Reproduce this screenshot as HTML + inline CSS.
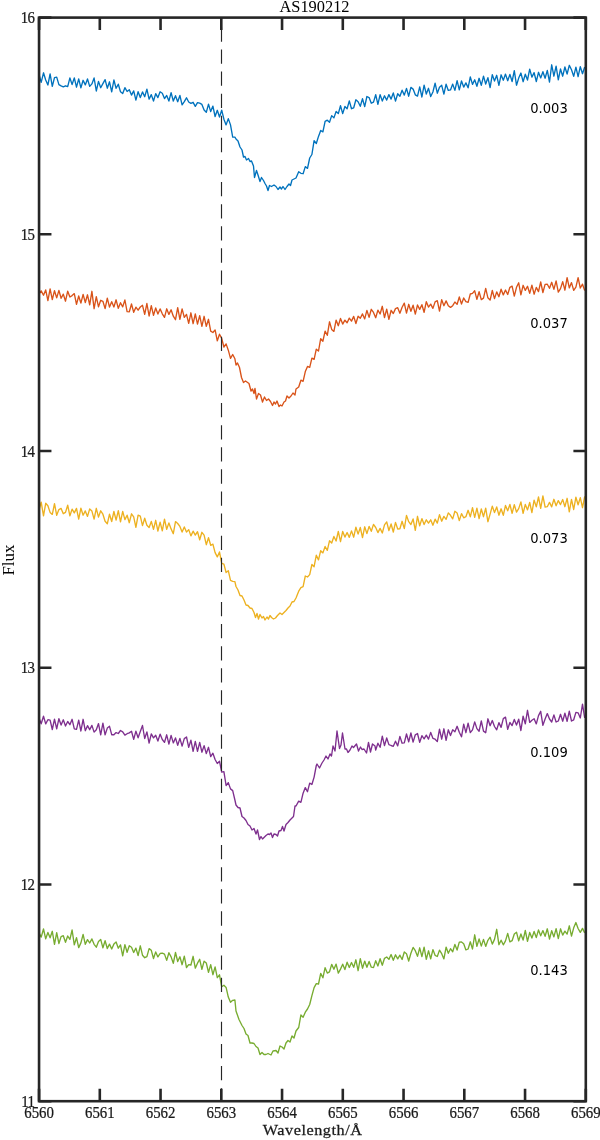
<!DOCTYPE html>
<html><head><meta charset="utf-8"><style>
html,body{margin:0;padding:0;background:#fff;width:600px;height:1140px;overflow:hidden}
svg{display:block}
.tk{font-family:"Liberation Serif",serif;font-size:16.5px;fill:#1a1a1a;stroke:#1a1a1a;stroke-width:0.25px}
.ytk{letter-spacing:-0.8px}
.lab{font-family:"DejaVu Sans Condensed","DejaVu Sans",sans-serif;font-size:14.3px;fill:#000}
.ttl{font-family:"Liberation Serif",serif;font-size:17px;fill:#000}
.xl{font-family:"Liberation Serif",serif;font-size:15.2px;fill:#1a1a1a;letter-spacing:0.5px;stroke:#1a1a1a;stroke-width:0.25px}
</style></head><body>
<svg width="600" height="1140" viewBox="0 0 600 1140">
<rect width="600" height="1140" fill="#fff"/>
<g fill="none" stroke-width="1.35" stroke-linejoin="round">
<path d="M39.0,74.3 41.2,82.4 43.5,72.8 45.7,80.0 47.9,85.0 50.1,73.9 52.3,86.3 54.5,77.6 56.7,77.1 58.9,84.6 61.1,85.9 63.3,86.8 65.5,85.8 67.7,86.6 69.9,77.9 72.1,84.5 74.3,77.9 76.5,87.2 78.7,78.9 80.9,87.9 83.1,80.3 85.3,84.9 87.5,79.0 89.7,86.4 91.9,83.9 94.1,78.0 96.3,91.0 98.5,81.4 100.7,87.7 102.9,83.6 105.1,79.6 107.3,88.2 109.5,81.8 111.7,91.8 113.9,80.0 116.1,88.3 118.3,84.2 120.5,91.7 122.7,93.5 124.9,87.7 127.1,91.5 129.3,89.7 131.5,95.1 133.7,90.9 135.9,100.1 138.1,91.7 140.3,97.6 142.5,91.9 144.7,96.7 146.9,89.1 149.1,99.1 151.3,94.6 153.5,101.0 155.7,93.6 157.9,97.6 160.1,91.8 162.3,93.2 164.5,98.6 166.7,95.5 168.9,101.0 171.1,92.6 173.3,101.0 175.5,95.7 177.7,101.7 179.9,95.5 182.1,104.8 184.3,101.6 186.5,97.8 188.7,102.0 190.9,103.4 193.1,102.3 195.3,106.3 197.5,102.6 199.7,103.2 201.9,104.4 204.1,110.0 206.3,112.3 208.5,104.1 210.7,111.6 212.9,106.1 215.1,116.5 217.3,110.3 219.5,117.0 221.7,110.2 223.9,119.2 226.1,124.9 228.3,118.6 230.5,124.9 232.7,137.1 234.9,137.2 236.0,139.0 238.0,141.0 240.0,147.0 242.0,150.0 243.5,157.0 245.0,156.5 246.5,160.0 248.5,158.5 250.0,161.5 251.5,161.0 253.5,166.0 254.5,177.5 256.5,170.5 258.0,175.0 260.0,181.5 261.5,177.5 263.5,180.5 265.0,183.5 266.5,186.0 268.0,190.5 269.5,185.5 271.5,186.5 274.0,185.0 276.0,186.5 278.0,189.5 280.0,187.0 281.5,189.0 283.0,186.5 285.0,189.5 287.0,186.5 289.0,184.0 290.5,185.5 292.0,180.0 294.0,179.0 296.0,178.0 298.7,171.7 300.9,173.3 303.1,173.7 305.3,166.6 307.5,168.4 309.7,158.0 311.9,154.5 314.1,140.7 316.3,143.5 318.5,136.4 320.7,130.5 322.9,131.9 325.1,121.4 327.3,120.2 329.5,122.2 331.7,115.6 333.9,117.9 336.1,111.5 338.3,113.6 340.5,105.7 342.7,113.6 344.9,106.5 347.1,108.8 349.3,100.9 351.5,108.7 353.7,107.8 355.9,99.8 358.1,101.7 360.3,106.3 362.5,98.7 364.7,106.6 366.9,96.5 369.1,97.6 371.3,103.2 373.5,102.1 375.7,94.7 377.9,104.4 380.1,94.6 382.3,101.0 384.5,95.8 386.7,100.1 388.9,94.6 391.1,99.1 393.3,92.9 395.5,101.1 397.7,93.7 399.9,96.2 402.1,90.2 404.3,95.1 406.5,88.4 408.7,96.2 410.9,87.4 413.1,89.1 415.3,94.8 417.5,96.1 419.7,86.9 421.9,97.0 424.1,85.1 426.3,94.0 428.5,88.3 430.7,96.5 432.9,92.0 435.1,83.2 437.3,93.2 439.5,87.2 441.7,85.3 443.9,94.1 446.1,84.2 448.3,90.4 450.5,89.9 452.7,84.1 454.9,90.4 457.1,80.6 459.3,89.8 461.5,81.0 463.7,87.1 465.9,82.9 468.1,87.8 470.3,76.9 472.5,84.4 474.7,79.8 476.9,86.3 479.1,78.3 481.3,85.3 483.5,76.1 485.7,84.0 487.9,77.7 490.1,87.6 492.3,74.6 494.5,81.0 496.7,75.3 498.9,85.3 501.1,74.8 503.3,80.2 505.5,74.1 507.7,80.7 509.9,74.4 512.1,81.5 514.3,70.6 516.5,85.2 518.7,78.1 520.9,73.0 523.1,81.7 525.3,74.2 527.5,80.0 529.7,69.1 531.9,77.1 534.1,72.6 536.3,81.5 538.5,72.3 540.7,77.9 542.9,71.7 545.1,78.2 547.3,70.4 549.5,82.0 551.7,64.8 553.9,76.2 556.1,66.1 558.3,79.9 560.5,69.0 562.7,76.2 564.9,67.0 567.1,74.0 569.3,65.3 571.5,69.8 573.7,76.3 575.9,67.2 578.1,76.7 580.3,66.6 582.5,73.7 584.7,67.0" stroke="#0072BD"/>
<path d="M39.0,294.2 41.2,290.9 43.5,295.2 45.7,289.9 47.9,300.6 50.1,288.9 52.3,299.6 54.5,290.7 56.7,297.9 58.9,290.4 61.1,298.3 63.3,294.1 65.5,301.2 67.7,291.2 69.9,297.0 72.1,295.6 74.3,293.6 76.5,304.3 78.7,296.0 80.9,303.1 83.1,294.4 85.3,302.5 87.5,294.8 89.7,304.9 91.9,291.3 94.1,308.7 96.3,296.7 98.5,306.8 100.7,300.3 102.9,301.3 105.1,308.6 107.3,298.2 109.5,307.1 111.7,301.7 113.9,307.0 116.1,299.8 118.3,308.3 120.5,302.7 122.7,306.9 124.9,300.0 127.1,311.7 129.3,311.8 131.5,304.0 133.7,312.3 135.9,307.2 138.1,310.2 140.3,307.0 142.5,305.3 144.7,314.3 146.9,303.5 149.1,316.0 151.3,305.7 153.5,315.3 155.7,308.0 157.9,314.1 160.1,308.9 162.3,313.8 164.5,317.4 166.7,308.8 168.9,314.4 171.1,309.8 173.3,316.2 175.5,319.7 177.7,307.6 179.9,319.4 182.1,308.9 184.3,317.3 186.5,314.4 188.7,323.4 190.9,312.8 193.1,323.7 195.3,314.0 197.5,324.1 199.7,315.6 201.9,326.3 204.1,316.3 206.3,326.4 208.5,319.3 210.7,331.2 212.9,332.5 215.1,329.9 217.3,340.9 219.5,334.2 221.7,338.4 223.9,347.0 226.1,343.9 228.3,350.2 230.5,358.4 232.7,354.5 234.9,358.8 236.0,365.0 237.5,363.0 239.5,367.5 241.5,377.5 243.5,382.5 245.5,381.0 249.0,383.5 251.0,391.0 252.5,389.0 254.0,393.5 255.0,388.5 256.5,399.0 258.5,393.5 260.5,395.0 262.5,402.0 264.5,397.0 266.5,400.5 268.5,399.0 270.5,401.5 272.5,405.5 274.0,402.0 275.5,404.0 277.0,401.0 279.0,406.5 280.5,405.0 282.0,406.0 284.0,402.0 285.5,401.0 287.0,396.0 289.0,398.0 291.0,396.0 293.0,393.0 295.0,395.0 296.0,389.0 298.7,387.0 300.9,380.2 303.1,381.3 305.3,371.6 307.5,366.4 309.7,367.4 311.9,358.1 314.1,359.4 316.3,349.2 318.5,351.0 320.7,338.7 322.9,341.2 325.1,331.1 327.3,335.3 329.5,321.8 331.7,329.4 333.9,331.4 336.1,320.1 338.3,325.7 340.5,318.5 342.7,324.1 344.9,320.2 347.1,322.8 349.3,318.1 351.5,321.1 353.7,316.4 355.9,323.5 358.1,316.2 360.3,318.3 362.5,313.9 364.7,318.9 366.9,310.4 369.1,317.4 371.3,309.3 373.5,312.4 375.7,317.7 377.9,310.1 380.1,314.0 382.3,306.3 384.5,317.5 386.7,309.1 388.9,319.3 391.1,310.3 393.3,313.5 395.5,308.6 397.7,307.7 399.9,313.2 402.1,307.2 404.3,303.1 406.5,313.1 408.7,304.3 410.9,311.3 413.1,305.2 415.3,314.1 417.5,305.0 419.7,309.4 421.9,304.7 424.1,312.3 426.3,301.7 428.5,307.1 430.7,304.1 432.9,308.4 435.1,301.9 437.3,300.7 439.5,311.1 441.7,299.7 443.9,305.7 446.1,300.9 448.3,305.8 450.5,307.4 452.7,305.7 454.9,302.0 457.1,304.4 459.3,297.0 461.5,304.0 463.7,298.0 465.9,301.7 468.1,302.3 470.3,294.0 472.5,293.4 474.7,290.8 476.9,299.3 479.1,291.7 481.3,299.6 483.5,298.1 485.7,288.4 487.9,297.8 490.1,300.1 492.3,290.5 494.5,298.6 496.7,291.9 498.9,296.7 501.1,289.2 503.3,294.9 505.5,290.0 507.7,294.5 509.9,287.3 512.1,286.1 514.3,296.1 516.5,287.3 518.7,282.8 520.9,294.8 523.1,285.3 525.3,290.4 527.5,286.3 529.7,293.3 531.9,285.1 534.1,294.2 536.3,287.4 538.5,291.6 540.7,282.0 542.9,292.5 545.1,284.4 547.3,284.2 549.5,288.3 551.7,282.3 553.9,289.4 556.1,280.9 558.3,292.1 560.5,288.6 562.7,281.7 564.9,290.2 567.1,277.6 569.3,287.9 571.5,282.6 573.7,290.4 575.9,287.2 578.1,277.7 580.3,288.0 582.5,284.2 584.7,290.6" stroke="#D95319"/>
<path d="M39.0,509.8 41.2,502.2 43.5,515.9 45.7,503.3 47.9,505.8 50.1,512.4 52.3,514.4 54.5,503.7 56.7,515.3 58.9,509.6 61.1,508.4 63.3,513.7 65.5,512.4 67.7,505.2 69.9,515.8 72.1,509.1 74.3,512.9 76.5,508.4 78.7,519.1 80.9,508.1 83.1,515.2 85.3,510.9 87.5,516.4 89.7,508.9 91.9,511.1 94.1,519.1 96.3,508.3 98.5,517.1 100.7,510.8 102.9,514.2 105.1,521.3 107.3,523.8 109.5,514.2 111.7,521.5 113.9,511.5 116.1,520.1 118.3,510.6 120.5,521.9 122.7,511.4 124.9,519.6 127.1,515.2 129.3,522.7 131.5,513.8 133.7,516.9 135.9,527.4 138.1,515.1 140.3,516.1 142.5,525.6 144.7,518.2 146.9,525.2 149.1,527.5 151.3,521.4 153.5,529.3 155.7,520.3 157.9,531.0 160.1,522.2 162.3,530.8 164.5,519.1 166.7,529.3 168.9,522.9 171.1,528.9 173.3,533.7 175.5,521.6 177.7,523.5 179.9,526.4 182.1,532.1 184.3,526.9 186.5,532.1 188.7,529.6 190.9,535.9 193.1,531.2 195.3,535.1 197.5,531.7 199.7,539.8 201.9,532.3 204.1,535.1 206.3,544.7 208.5,537.7 210.7,545.3 212.9,544.1 215.1,552.6 217.3,556.9 219.5,551.9 221.7,563.4 223.9,564.2 226.1,572.5 228.3,570.7 230.5,580.4 232.7,581.4 234.9,581.6 236.0,586.5 238.0,590.0 240.0,595.5 242.0,596.0 244.0,600.0 246.0,605.0 248.0,605.5 250.0,608.0 252.0,608.5 254.0,612.5 255.5,617.5 257.0,613.5 258.5,619.0 260.0,614.5 262.0,618.0 263.5,616.5 265.0,620.0 267.0,617.0 268.5,619.0 270.0,615.5 271.5,617.5 273.5,619.0 275.5,618.0 277.5,615.5 280.0,613.0 282.0,614.5 284.0,612.5 286.0,610.5 288.0,608.0 290.0,606.0 292.0,602.0 294.0,601.5 296.0,598.0 298.7,591.2 300.9,587.7 303.1,586.6 305.3,576.0 307.5,577.0 309.7,574.6 311.9,564.5 314.1,566.7 316.3,555.2 318.5,559.9 320.7,550.7 322.9,552.9 325.1,546.5 327.3,550.3 329.5,540.8 331.7,543.0 333.9,536.5 336.1,541.0 338.3,531.4 340.5,541.7 342.7,531.4 344.9,537.1 347.1,532.5 349.3,537.4 351.5,530.9 353.7,537.2 355.9,527.2 358.1,534.1 360.3,527.5 362.5,537.6 364.7,526.8 366.9,533.6 369.1,526.4 371.3,531.3 373.5,524.4 375.7,527.5 377.9,532.6 380.1,528.4 382.3,533.0 384.5,524.8 386.7,521.9 388.9,530.5 391.1,524.0 393.3,532.0 395.5,522.4 397.7,529.0 399.9,528.8 402.1,521.3 404.3,528.6 406.5,515.4 408.7,521.7 410.9,524.5 413.1,518.9 415.3,530.3 417.5,516.3 419.7,525.8 421.9,518.6 424.1,524.5 426.3,519.8 428.5,523.1 430.7,519.8 432.9,525.2 435.1,519.2 437.3,523.1 439.5,514.6 441.7,521.2 443.9,516.4 446.1,519.4 448.3,512.9 450.5,515.3 452.7,518.9 454.9,511.3 457.1,513.0 459.3,520.6 461.5,513.6 463.7,517.8 465.9,516.7 468.1,510.3 470.3,516.8 472.5,507.7 474.7,517.3 476.9,508.2 479.1,518.7 481.3,509.0 483.5,516.7 485.7,508.2 487.9,521.7 490.1,514.1 492.3,506.1 494.5,512.6 496.7,507.0 498.9,515.2 501.1,508.8 503.3,515.3 505.5,505.5 507.7,510.8 509.9,504.5 512.1,513.3 514.3,504.7 516.5,512.1 518.7,508.6 520.9,501.9 523.1,513.4 525.3,504.4 527.5,509.9 529.7,502.5 531.9,512.6 534.1,500.1 536.3,506.9 538.5,497.0 540.7,508.4 542.9,495.9 545.1,507.0 547.3,506.7 549.5,502.4 551.7,506.9 553.9,499.3 556.1,505.8 558.3,500.6 560.5,504.6 562.7,499.5 564.9,506.7 567.1,498.3 569.3,511.8 571.5,499.4 573.7,509.5 575.9,497.2 578.1,504.8 580.3,497.6 582.5,507.7 584.7,496.3" stroke="#EDB120"/>
<path d="M39.0,718.0 41.2,723.8 43.5,716.2 45.7,723.9 47.9,719.7 50.1,720.1 52.3,729.5 54.5,719.1 56.7,728.8 58.9,718.7 61.1,725.0 63.3,719.8 65.5,726.0 67.7,721.5 69.9,724.7 72.1,719.3 74.3,728.8 76.5,729.4 78.7,720.2 80.9,731.0 83.1,719.3 85.3,730.7 87.5,725.7 89.7,729.7 91.9,725.4 94.1,732.1 96.3,729.7 98.5,723.6 100.7,734.9 102.9,723.2 105.1,734.8 107.3,728.1 109.5,726.3 111.7,734.7 113.9,734.7 116.1,732.6 118.3,733.5 120.5,730.5 122.7,731.8 124.9,735.1 127.1,733.7 129.3,732.9 131.5,731.3 133.7,739.4 135.9,731.1 138.1,737.8 140.3,731.5 142.5,725.5 144.7,738.5 146.9,731.9 149.1,743.1 151.3,733.9 153.5,737.9 155.7,735.2 157.9,741.0 160.1,734.1 162.3,739.5 164.5,742.4 166.7,734.8 168.9,744.1 171.1,735.4 173.3,742.9 175.5,737.9 177.7,745.3 179.9,738.4 182.1,746.1 184.3,738.6 186.5,737.0 188.7,747.4 190.9,740.2 193.1,751.3 195.3,741.4 197.5,751.3 199.7,742.4 201.9,752.2 204.1,745.6 206.3,753.6 208.5,747.3 210.7,756.6 212.9,753.2 215.1,759.5 217.3,763.5 219.5,761.2 221.7,772.1 223.9,771.7 226.1,785.5 228.3,782.6 230.5,788.9 232.7,790.6 234.9,800.0 236.0,805.0 238.0,807.5 240.0,808.0 242.0,816.5 244.0,818.0 246.0,820.5 248.0,824.5 250.0,826.0 252.0,830.0 254.0,828.5 256.0,834.0 257.5,830.0 259.5,839.5 261.0,836.5 262.5,839.0 264.5,837.0 266.0,835.5 268.0,834.0 269.5,834.5 271.0,833.0 272.5,837.5 274.0,834.0 276.0,834.5 277.5,836.0 279.0,831.0 281.0,830.5 282.5,826.5 284.0,831.0 286.0,824.5 288.0,822.5 290.0,820.0 291.5,818.5 293.5,816.5 295.0,806.0 296.0,806.0 298.7,801.1 300.9,802.3 303.1,793.2 305.3,787.6 307.5,791.7 309.7,783.1 311.9,784.5 314.1,777.1 316.3,765.5 317.0,764.0 319.5,768.0 322.0,763.0 324.0,760.0 326.0,756.0 328.0,759.0 330.0,754.0 331.5,756.0 333.0,746.0 335.0,751.0 337.0,731.0 339.5,748.5 341.0,745.0 342.5,733.0 345.0,749.0 346.5,749.0 348.0,752.5 350.0,750.0 352.0,746.0 353.5,747.5 356.5,744.0 358.5,751.0 360.5,747.0 362.0,749.5 364.0,749.0 366.5,753.0 368.5,742.5 370.5,752.0 372.5,744.0 375.0,746.0 375.7,750.1 377.9,743.2 380.1,747.3 382.3,736.2 384.5,745.6 386.7,738.0 388.9,744.6 391.1,745.5 393.3,746.3 395.5,741.2 397.7,745.9 399.9,736.4 402.1,743.2 404.3,742.9 406.5,734.0 408.7,741.8 410.9,733.0 413.1,742.1 415.3,734.8 417.5,733.5 419.7,742.4 421.9,735.7 424.1,738.9 426.3,735.1 428.5,739.1 430.7,732.4 432.9,738.3 435.1,739.2 437.3,741.6 439.5,729.1 441.7,739.2 443.9,728.8 446.1,740.4 448.3,729.8 450.5,735.5 452.7,729.8 454.9,731.8 457.1,726.3 459.3,732.3 461.5,736.8 463.7,724.2 465.9,732.7 468.1,723.1 470.3,732.6 472.5,729.9 474.7,721.9 476.9,728.6 479.1,731.2 481.3,721.0 483.5,731.1 485.7,732.7 487.9,718.8 490.1,725.7 492.3,720.5 494.5,726.5 496.7,729.8 498.9,722.6 501.1,727.4 503.3,718.6 505.5,717.1 507.7,729.3 509.9,722.5 512.1,725.6 514.3,719.5 516.5,725.0 518.7,719.2 520.9,730.5 523.1,716.2 525.3,723.8 527.5,710.3 529.7,722.4 531.9,720.2 534.1,718.7 536.3,723.9 538.5,715.6 540.7,711.3 542.9,725.3 545.1,719.0 547.3,713.6 549.5,719.0 551.7,722.0 553.9,714.9 556.1,722.0 558.3,721.0 560.5,714.3 562.7,721.2 564.9,713.2 567.1,721.3 569.3,711.1 571.5,721.0 573.7,719.8 575.9,712.4 578.1,712.8 580.3,718.0 582.5,704.1 584.7,718.0" stroke="#7E2F8E"/>
<path d="M39.0,932.9 41.2,937.1 43.5,929.0 45.7,938.8 47.9,932.5 50.1,937.8 52.3,931.3 54.5,944.3 56.7,932.7 58.9,943.5 61.1,936.6 63.3,935.7 65.5,942.3 67.7,936.0 69.9,939.4 72.1,930.0 74.3,944.9 76.5,937.6 78.7,947.6 80.9,942.9 83.1,934.4 85.3,944.3 87.5,939.6 89.7,943.0 91.9,938.9 94.1,944.3 96.3,947.2 98.5,941.5 100.7,939.4 102.9,947.8 105.1,940.7 107.3,948.5 109.5,944.1 111.7,949.0 113.9,944.1 116.1,942.0 118.3,948.2 120.5,944.9 122.7,955.8 124.9,944.6 127.1,952.3 129.3,945.7 131.5,947.2 133.7,952.5 135.9,948.1 138.1,955.5 140.3,945.8 142.5,955.2 144.7,957.7 146.9,956.6 149.1,948.6 151.3,950.3 153.5,958.5 155.7,951.9 157.9,956.9 160.1,953.5 162.3,953.2 164.5,954.1 166.7,960.4 168.9,952.7 171.1,956.9 173.3,963.3 175.5,952.5 177.7,961.5 179.9,956.8 182.1,964.7 184.3,956.1 186.5,967.5 188.7,964.6 190.9,965.0 193.1,956.3 195.3,968.1 197.5,963.2 199.7,959.3 201.9,969.4 204.1,961.2 206.3,963.0 208.5,972.4 210.7,964.6 212.9,974.7 215.1,966.9 217.3,977.7 219.5,974.8 221.7,986.8 223.9,985.3 226.1,987.4 228.3,997.1 230.5,1002.3 232.7,1000.3 234.9,1000.0 236.0,1011.0 239.0,1019.5 242.0,1025.5 244.0,1028.5 246.0,1034.0 248.0,1035.5 250.0,1043.0 252.0,1043.0 254.0,1043.5 256.0,1046.5 258.0,1048.0 260.0,1054.5 262.0,1052.5 264.0,1054.5 266.0,1054.5 268.0,1053.5 271.0,1055.0 273.0,1051.0 276.0,1050.5 278.0,1053.0 280.0,1046.0 282.0,1047.0 284.0,1049.0 286.0,1043.0 288.0,1040.5 290.0,1042.0 292.0,1036.0 294.0,1038.0 296.0,1031.0 298.7,1027.5 300.9,1015.0 303.1,1017.2 305.3,1012.2 307.5,1009.0 309.7,1004.5 311.9,995.6 314.1,987.6 316.3,983.7 318.5,984.0 320.7,973.4 322.9,977.8 325.1,967.7 327.3,973.1 329.5,971.8 331.7,964.4 333.9,969.2 336.1,964.1 338.3,973.1 340.5,969.1 342.7,964.2 344.9,969.6 347.1,962.2 349.3,967.5 351.5,962.5 353.7,967.3 355.9,959.8 358.1,970.7 360.3,958.6 362.5,968.2 364.7,961.1 366.9,967.3 369.1,961.5 371.3,967.2 373.5,967.6 375.7,960.7 377.9,966.0 380.1,958.7 382.3,965.2 384.5,958.3 386.7,957.0 388.9,959.4 391.1,954.5 393.3,960.3 395.5,954.8 397.7,958.8 399.9,955.2 402.1,959.5 404.3,952.0 406.5,953.7 408.7,961.0 410.9,953.2 413.1,947.4 415.3,950.7 417.5,956.3 419.7,947.8 421.9,956.6 424.1,947.2 426.3,959.3 428.5,950.8 430.7,958.8 432.9,949.6 435.1,955.3 437.3,956.5 439.5,950.1 441.7,953.7 443.9,958.9 446.1,947.1 448.3,953.3 450.5,948.7 452.7,951.8 454.9,944.4 457.1,950.0 459.3,942.1 461.5,942.0 463.7,943.7 465.9,949.9 468.1,949.0 470.3,941.8 472.5,949.0 474.7,934.8 476.9,946.3 479.1,938.9 481.3,946.1 483.5,939.4 485.7,946.4 487.9,940.3 490.1,937.2 492.3,944.1 494.5,939.4 496.7,929.3 498.9,944.7 501.1,940.2 503.3,944.8 505.5,940.9 507.7,933.4 509.9,941.9 512.1,940.7 514.3,934.0 516.5,932.2 518.7,940.8 520.9,934.0 523.1,940.1 525.3,930.5 527.5,941.3 529.7,932.5 531.9,938.1 534.1,931.5 536.3,937.6 538.5,929.9 540.7,935.8 542.9,930.6 545.1,936.3 547.3,928.8 549.5,939.0 551.7,930.7 553.9,936.9 556.1,928.6 558.3,938.6 560.5,928.8 562.7,935.1 564.9,931.2 567.1,934.1 569.3,925.8 571.5,936.1 573.7,927.8 575.9,922.5 578.1,928.5 580.3,932.4 582.5,928.4 584.7,932.9" stroke="#77AC30"/>
</g>
<line x1="221.50" y1="17.60" x2="221.50" y2="1101.20" stroke="#262626" stroke-width="1.15" stroke-dasharray="14.3 7.8" stroke-dashoffset="12.35"/>
<path d="M39.05,1101.20V1088.80M39.05,17.60V30.00M99.80,1101.20V1088.80M99.80,17.60V30.00M160.55,1101.20V1088.80M160.55,17.60V30.00M221.30,1101.20V1088.80M221.30,17.60V30.00M282.05,1101.20V1088.80M282.05,17.60V30.00M342.80,1101.20V1088.80M342.80,17.60V30.00M403.55,1101.20V1088.80M403.55,17.60V30.00M464.30,1101.20V1088.80M464.30,17.60V30.00M525.05,1101.20V1088.80M525.05,17.60V30.00M585.80,1101.20V1088.80M585.80,17.60V30.00M39.05,1101.20H51.45M585.80,1101.20H573.40M39.05,884.48H51.45M585.80,884.48H573.40M39.05,667.76H51.45M585.80,667.76H573.40M39.05,451.04H51.45M585.80,451.04H573.40M39.05,234.32H51.45M585.80,234.32H573.40M39.05,17.60H51.45M585.80,17.60H573.40" stroke="#262626" stroke-width="2.6" fill="none"/>
<rect x="39.05" y="17.60" width="546.75" height="1083.60" fill="none" stroke="#262626" stroke-width="2.6"/>
<text transform="translate(567.80,113.00) scale(1.02,1)" class="lab" text-anchor="end">0.003</text>
<text transform="translate(567.80,328.20) scale(1.02,1)" class="lab" text-anchor="end">0.037</text>
<text transform="translate(567.80,542.60) scale(1.02,1)" class="lab" text-anchor="end">0.073</text>
<text transform="translate(567.80,756.70) scale(1.02,1)" class="lab" text-anchor="end">0.109</text>
<text transform="translate(567.80,974.90) scale(1.02,1)" class="lab" text-anchor="end">0.143</text>
<text transform="translate(39.05,1118.30) scale(0.9,1.0)" class="tk" text-anchor="middle">6560</text>
<text transform="translate(99.80,1118.30) scale(0.9,1.0)" class="tk" text-anchor="middle">6561</text>
<text transform="translate(160.55,1118.30) scale(0.9,1.0)" class="tk" text-anchor="middle">6562</text>
<text transform="translate(221.30,1118.30) scale(0.9,1.0)" class="tk" text-anchor="middle">6563</text>
<text transform="translate(282.05,1118.30) scale(0.9,1.0)" class="tk" text-anchor="middle">6564</text>
<text transform="translate(342.80,1118.30) scale(0.9,1.0)" class="tk" text-anchor="middle">6565</text>
<text transform="translate(403.55,1118.30) scale(0.9,1.0)" class="tk" text-anchor="middle">6566</text>
<text transform="translate(464.30,1118.30) scale(0.9,1.0)" class="tk" text-anchor="middle">6567</text>
<text transform="translate(525.05,1118.30) scale(0.9,1.0)" class="tk" text-anchor="middle">6568</text>
<text transform="translate(585.80,1118.30) scale(0.9,1.0)" class="tk" text-anchor="middle">6569</text>
<text transform="translate(34.20,1106.70) scale(0.9,1.0)" class="tk ytk" text-anchor="end">11</text>
<text transform="translate(34.20,889.98) scale(0.9,1.0)" class="tk ytk" text-anchor="end">12</text>
<text transform="translate(34.20,673.26) scale(0.9,1.0)" class="tk ytk" text-anchor="end">13</text>
<text transform="translate(34.20,456.54) scale(0.9,1.0)" class="tk ytk" text-anchor="end">14</text>
<text transform="translate(34.20,239.82) scale(0.9,1.0)" class="tk ytk" text-anchor="end">15</text>
<text transform="translate(34.20,23.10) scale(0.9,1.0)" class="tk ytk" text-anchor="end">16</text>
<text transform="translate(314.50,12.00) scale(0.965,1.0)" class="ttl" text-anchor="middle">AS190212</text>
<text transform="translate(312.60,1135.10) scale(1.07,1.0)" class="xl" text-anchor="middle">Wavelength/Å</text>
<text transform="translate(14,560) rotate(-90)" class="ttl" text-anchor="middle">Flux</text>
</svg>
</body></html>
